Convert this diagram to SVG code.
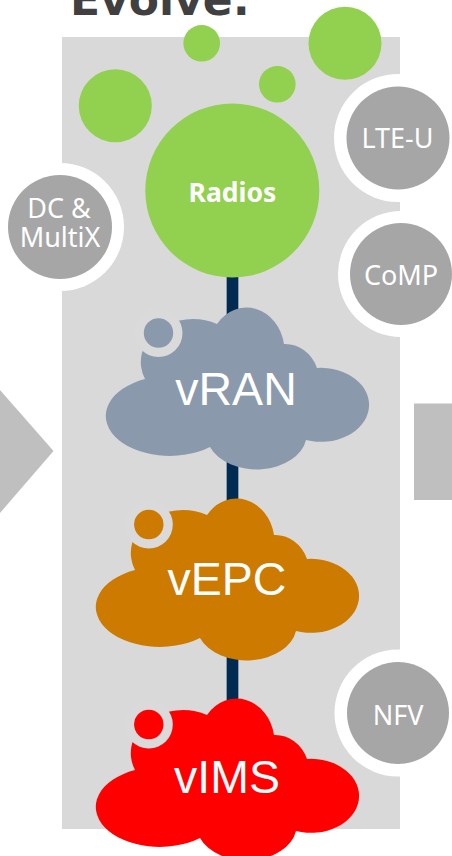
<svg xmlns="http://www.w3.org/2000/svg" xmlns:xlink="http://www.w3.org/1999/xlink" width="452" height="856" viewBox="0 0 452 856">
  <defs>
    <!-- cloud outline, local box 268 x 163 -->
    <path id="cloud" d="M 42 73 A 52 43 0 0 1 114 18 A 38 44 0 0 1 181 38 A 34 37 0 0 1 214 62 A 48 37 0 1 1 203 134 A 50 35 0 0 1 107 141 A 64 40 0 1 1 42 73 Z"/>
    <style>
      .panel { fill: #d9d9d9; }
      .green { fill: #92d050; }
      .halo { fill: #ffffff; }
      .feature { fill: #a6a6a6; }
      .feature-label { fill: #ffffff; font-family: "Noto Sans", "DejaVu Sans", sans-serif; font-size: 27px; text-anchor: middle; }
      .cloud-label { fill: #ffffff; font-family: "Liberation Sans", Arial, sans-serif; font-size: 46.5px; text-anchor: middle; }
      .puff-ring { fill: #dadada; }
      .link { stroke: #012b51; stroke-width: 11.7; fill: none; }
      .pointer { fill: #bfbfbf; }
    </style>
  </defs>

  <!-- heading, cropped by the top edge -->
  <text x="70" y="15" font-family="'DejaVu Sans', Verdana, sans-serif" font-weight="bold" font-size="44" fill="#404040">Evolve:</text>

  <!-- side pointers -->
  <polygon class="pointer" points="0,390 53.5,451 0,513"/>
  <rect class="pointer" x="414" y="403.5" width="40" height="96.5"/>

  <!-- backdrop panel -->
  <rect class="panel" x="62" y="37" width="338" height="792"/>

  <!-- small radio cells -->
  <g id="cell-1"><circle class="green" cx="201.7" cy="43.3" r="18.3"/></g>
  <g id="cell-2"><circle class="green" cx="345" cy="43.3" r="36.5"/></g>
  <g id="cell-3"><circle class="green" cx="277.3" cy="84.3" r="18.3"/></g>
  <g id="cell-4"><circle class="green" cx="115.3" cy="105.7" r="36.5"/></g>

  <!-- feature bubbles -->
  <g id="lte-u">
    <circle class="halo" cx="398" cy="138" r="64"/>
    <circle class="feature" cx="398" cy="138" r="51.5"/>
    <text class="feature-label" x="397.5" y="148.3">LTE-U</text>
  </g>
  <g id="dc-multix">
    <circle class="halo" cx="60" cy="227" r="64"/>
    <circle class="feature" cx="60" cy="227" r="52"/>
    <text class="feature-label" x="60" y="233" font-size="26"><tspan x="59" y="218">DC &amp;</tspan><tspan x="60" y="246.7">MultiX</tspan></text>
  </g>
  <g id="comp">
    <circle class="halo" cx="401" cy="274" r="63"/>
    <circle class="feature" cx="401" cy="274" r="51"/>
    <text class="feature-label" x="401" y="285">CoMP</text>
  </g>
  <g id="nfv">
    <circle class="halo" cx="398" cy="713" r="63.5"/>
    <circle class="feature" cx="398" cy="713" r="51"/>
    <text class="feature-label" x="398" y="725">NFV</text>
  </g>

  <!-- backbone links -->
  <g id="connectors">
    <line class="link" x1="232.5" y1="270" x2="232.5" y2="320"/>
    <line class="link" x1="232.5" y1="455" x2="232.5" y2="510"/>
    <line class="link" x1="232.5" y1="645" x2="232.5" y2="710"/>
  </g>

  <g id="radios">
    <circle class="green" cx="232.3" cy="190.5" r="87"/>
    <text x="232.5" y="201.7" font-family="'Noto Sans', 'DejaVu Sans', sans-serif" font-weight="bold" font-size="26.5" fill="#ffffff" text-anchor="middle">Radios</text>
  </g>

  <g id="vran">
    <use xlink:href="#cloud" href="#cloud" transform="translate(103,306)" fill="#8a9aac"/>
    <circle class="puff-ring" cx="158.5" cy="333" r="24"/>
    <circle cx="158.5" cy="333" r="14.7" fill="#8a9aac"/>
    <text class="cloud-label" x="236" y="405.3">vRAN</text>
  </g>

  <g id="vepc">
    <use xlink:href="#cloud" href="#cloud" transform="translate(93,497)" fill="#cc7a00"/>
    <circle class="puff-ring" cx="148.8" cy="524.5" r="24"/>
    <circle cx="148.8" cy="524.5" r="14.7" fill="#cc7a00"/>
    <text class="cloud-label" x="227" y="595">vEPC</text>
  </g>

  <g id="vims">
    <use xlink:href="#cloud" href="#cloud" transform="translate(93,697)" fill="#ff0000"/>
    <circle class="puff-ring" cx="148.8" cy="724.5" r="24"/>
    <circle cx="148.8" cy="724.5" r="14.7" fill="#ff0000"/>
    <text class="cloud-label" x="227" y="793.3">vIMS</text>
  </g>
</svg>
